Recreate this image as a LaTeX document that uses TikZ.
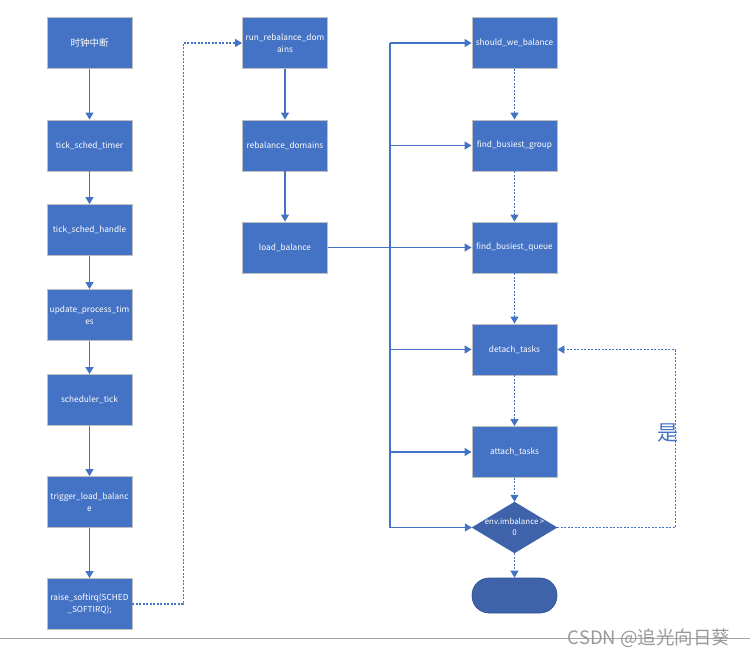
\documentclass[tikz,border=0pt]{standalone}
\usepackage{fontspec}
\setmainfont{Noto Sans CJK SC}
\usetikzlibrary{shapes.geometric,arrows.meta}
\definecolor{boxblue}{HTML}{4472C4}
\definecolor{darkblue}{HTML}{3E63AB}
\definecolor{edgegray}{HTML}{BFBFBF}
\tikzset{
  box/.style={draw=edgegray,line width=0.8pt,fill=boxblue,text=white,minimum width=85pt,minimum height=51pt,inner sep=1pt,align=center,font=\fontsize{8.3}{12}\selectfont},
  arr/.style={draw=boxblue,line width=1.1pt,-{Triangle[length=7pt,width=8pt]}},
  darr/.style={draw=boxblue,line width=1.1pt,dash pattern=on 2pt off 1.5pt,-{Triangle[length=7pt,width=8pt]}},
  ln/.style={draw=boxblue,line width=1.1pt},
}
\begin{document}
\begin{tikzpicture}[x=1pt,y=-1pt]
\useasboundingbox (0,0) rectangle (750,658);
% column 1
\node[box,font=\fontsize{9.5}{12}\selectfont] (clk) at (89.5,43) {时钟中断};
\node[box] (tst) at (89.5,145.5) {tick\_sched\_timer};
\node[box] (tsh) at (89.5,230) {tick\_sched\_handle};
\node[box] (upt) at (89.5,315) {update\_process\_tim\\es};
\node[box] (sct) at (89.5,400) {scheduler\_tick};
\node[box] (tlb) at (89.5,502) {trigger\_load\_balanc\\e};
\node[box] (rsi) at (89.5,604) {raise\_softirq(SCHED\\\_SOFTIRQ);};
% column 2
\node[box] (rrd) at (285,43) {run\_rebalance\_dom\\ains};
\node[box] (rbd) at (285,145.5) {rebalance\_domains};
\node[box] (lbl) at (285,247.5) {load\_balance};
% column 3
\node[box] (swb) at (514.5,43) {should\_we\_balance};
\node[box] (fbg) at (514.5,145.5) {find\_busiest\_group};
\node[box] (fbq) at (514.5,247.5) {find\_busiest\_queue};
\node[box] (dtt) at (514.5,349.5) {detach\_tasks};
\node[box] (att) at (514.5,452) {attach\_tasks};
\node[diamond,fill=darkblue,draw=darkblue,minimum width=85pt,minimum height=51pt,inner sep=0pt,shape aspect=1.67,
  label={[text=white,align=center,font=\fontsize{7.9}{11.5}\selectfont,yshift=0.5pt]center:env.imbalance\,>\\0}] (dia) at (514.5,527.5) {};
\node[rectangle,rounded corners=17pt,fill=darkblue,draw=darkblue!80!black,line width=0.6pt,minimum width=85pt,minimum height=35pt] (end) at (514.5,595.5) {};
% column 1 arrows
\draw[arr] (clk) -- (tst);
\draw[arr] (tst) -- (tsh);
\draw[arr] (tsh) -- (upt);
\draw[arr] (upt) -- (sct);
\draw[arr] (sct) -- (tlb);
\draw[arr] (tlb) -- (rsi);
\draw[darr] (rsi.east) -- ++(51,0) |- (rrd.west);
% column 2 arrows
\draw[arr] (rrd) -- (rbd);
\draw[arr] (rbd) -- (lbl);
\draw[arr] (lbl) -- (fbq);
% bus
\coordinate (bustop) at (390,43);
\coordinate (busbot) at (390,527.5);
\draw[ln] (bustop) -- (busbot);
\draw[arr] (bustop) -- (swb.west);
\draw[arr] (bustop |- fbg) -- (fbg.west);
\draw[arr] (bustop |- dtt) -- (dtt.west);
\draw[arr] (bustop |- att) -- (att.west);
\draw[arr] (busbot) -- (dia.west);
% column 3 arrows
\draw[darr] (swb) -- (fbg);
\draw[darr] (fbg) -- (fbq);
\draw[darr] (fbq) -- (dtt);
\draw[darr] (dtt) -- (att);
\draw[darr] (att) -- (dia);
\draw[darr] (dia) -- (end);
\draw[darr] (dia.east) -- ++(118,0) |- (dtt.east);
\node[text=boxblue,font=\fontsize{21}{22}\selectfont] (yes) at (668,433) {是};
% bottom rule and watermark
\coordinate (rl) at (0,638);
\coordinate (rr) at (750,638);
\draw[draw=black!35,line width=0.8pt] (rl) -- (rr);
\node[text=black!40,font=\fontsize{18.5}{20}\selectfont] (wm) at (649,638) {CSDN @追光向日葵};
\end{tikzpicture}
\end{document}
